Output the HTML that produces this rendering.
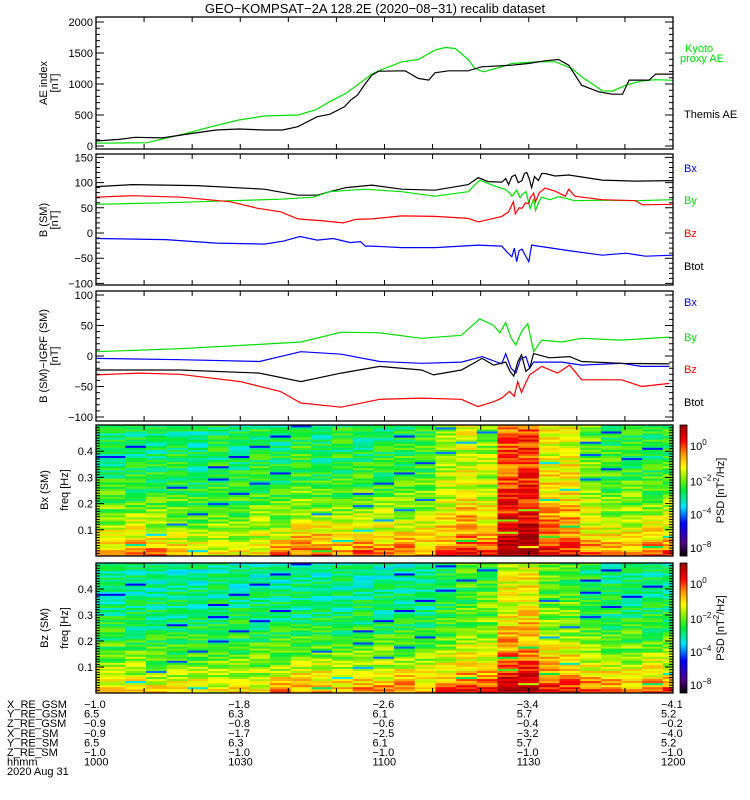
<!DOCTYPE html>
<html><head><meta charset="utf-8"><style>
body{margin:0;background:#fff}
svg{display:block;font-family:"Liberation Sans",sans-serif}
text{font-size:11px}
</style></head><body>
<svg id="chart" xmlns="http://www.w3.org/2000/svg" width="750" height="800" viewBox="0 0 750 800">
<rect width="750" height="800" fill="#fff"/>
<text x="375" y="13" text-anchor="middle" style="font-size:13px">GEO−KOMPSAT−2A 128.2E (2020−08−31) recalib dataset</text>
<g id="spec"></g><g id="lines"></g><g id="axes"></g>
<g id="labels">
<text transform="translate(47,83) rotate(-90)" text-anchor="middle">AE index</text>
<text transform="translate(58,83) rotate(-90)" text-anchor="middle">[nT]</text>
<text transform="translate(47,220) rotate(-90)" text-anchor="middle">B (SM)</text>
<text transform="translate(58,220) rotate(-90)" text-anchor="middle">[nT]</text>
<text transform="translate(47,356) rotate(-90)" text-anchor="middle">B (SM)−IGRF (SM)</text>
<text transform="translate(58,356) rotate(-90)" text-anchor="middle">[nT]</text>
<text transform="translate(48,490) rotate(-90)" text-anchor="middle">Bx (SM)</text>
<text transform="translate(68,490) rotate(-90)" text-anchor="middle">freq [Hz]</text>
<text transform="translate(48,628) rotate(-90)" text-anchor="middle">Bz (SM)</text>
<text transform="translate(68,628) rotate(-90)" text-anchor="middle">freq [Hz]</text>
<text x="685" y="52" fill="#00e000">Kyoto</text>
<text x="680" y="62" fill="#00e000">proxy AE</text>
<text x="684" y="118">Themis AE</text>
<text x="684" y="172" fill="#0000ff">Bx</text>
<text x="684" y="204" fill="#00e000">By</text>
<text x="684" y="237" fill="#ff0000">Bz</text>
<text x="684" y="270">Btot</text>
<text x="684" y="306" fill="#0000ff">Bx</text>
<text x="684" y="341" fill="#00e000">By</text>
<text x="684" y="373" fill="#ff0000">Bz</text>
<text x="684" y="406">Btot</text>
</g>
<g id="table"></g>
</svg>
<script>
const timesAE_themis=[0,4.8,8.2,13.8,20,25,29.7,35,38.8,42,46,48.6,51.7,53,54.4,55.8,57.4,58.8,64.3,67,69.2,70.5,73.3,77.4,80.2,86.5,89.9,93.4,96.2,98.3,101,104.6,107.4,109.5,110.9,115,116.4,120];
const valsAE_themis=[80,107,140,130,204,258,274,258,258,312,473,511,634,742,823,984,1145,1207,1213,1090,1063,1180,1213,1213,1277,1304,1331,1374,1395,1304,980,873,836,836,1063,1063,1160,1160];
const timesAE_kyoto=[0,10.6,14.5,18.7,24,29.7,35,42,45.6,48.6,52,57.4,58.8,63.6,67,70.5,72.6,74.7,77.4,78.8,80.6,84.4,86.5,91.4,95.5,99,101,105.3,107.4,110.2,113.6,116.4,120];
const valsAE_kyoto=[45,54,124,204,312,419,484,500,580,715,850,1161,1213,1358,1395,1546,1589,1572,1395,1250,1196,1277,1331,1358,1358,1250,1116,890,885,980,1050,1070,1060];

const tB_tot=[0,7.6,21,35,42,46,48.6,52,57.4,63.6,70.5,77.4,79.5,81.5,84.4,85.2,85.8,86.5,87.2,87.8,88.6,89.1,89.6,90.1,90.6,91.2,92,92.7,93.4,95.5,98.3,105.3,112.2,120];
const vB_tot=[92,96,94,87,75,75,82,90,95,87,85,96,110,102,101,108,96,112,115,100,104,118,120,108,90,112,104,118,118,113,115,105,103,104];
const tB_y=[0,14.5,28,38.4,45.2,48.6,55.8,57.4,63.6,70.5,77.4,79.8,82.9,85,86,86.5,87.5,88.2,88.6,89.4,90.3,91,91.4,92.1,92.7,94.4,96.2,99.6,105.3,112.2,120];
const vB_y=[57,60,64,67,71,82,87,86,82,73,82,105,93,87,80,73,85,70,76,82,49,68,45,62,71,66,72,64,65,64,66];
const tB_z=[0,7.6,17.8,28,33.6,38.4,42,47.2,51.4,54,57.4,63.6,70.5,77.4,79.5,84.4,85.8,86.8,87.2,88,88.6,89.3,90,90.3,91,91.4,92.2,93.4,95.5,97.6,98.3,99.6,105.3,112.2,113.6,120];
const vB_z=[71,74,71,62,49,42,28,24,20,27,28,34,33,29,22,33,42,62,38,50,49,60,58,70,79,62,80,89,83,73,87,73,66,64,56,57];
const tB_x=[0,14.5,25,35,39,42.4,46,49.3,52.9,55,56,57.4,63.6,70.5,79.5,84.4,85.5,86.5,87,87.5,88,88.6,89.3,90,90.6,92.7,98.3,105.3,110.2,114.3,120];
const vB_x=[-11,-13,-20,-22,-16,-7,-14,-11,-19,-17,-26,-26,-29,-29,-24,-26,-38,-47,-30,-57,-35,-32,-45,-57,-24,-27,-35,-44,-40,-46,-44];

const tD_y=[0,17.5,34,42.6,51,59,67.7,76,79.8,82.7,84,85.2,86.3,87.3,88.5,89.8,91,92.7,96.9,101,109.3,119.3];
const vD_y=[7,12,19,23,39,38,29,34,61,50,38,55,30,18,40,53,7,26,23,29,26,31];
const tD_x=[0,17.5,34,42.6,51,59,67.7,76,80.3,84.4,85.2,86.3,87.3,88.3,89.4,90.2,91,96.9,101,109.3,113.5,119.3];
const vD_x=[-4,-6,-9,7,3,-9,-12,-10,-1,-13,4,-20,-28,-5,-1,-20,-10,-10,-15,-12,-17,-17];
const tD_tot=[0,17.5,34,42.6,51,59,67.7,70.2,76,80.3,82.7,85.2,86.1,86.9,87.7,88.5,89.4,90.2,91,94.3,98.5,101,109.3,119.3];
const vD_tot=[-23,-23,-28,-42,-28,-17,-23,-31,-23,-4,-15,-10,-25,-33,-10,2,-25,-20,4,-3,-1,-9,-12,-13];
const tD_z=[0,9,17.5,30,38.3,42.6,51,59,67.7,76,79.4,82.7,84.4,86,87,87.7,88.5,89.3,90.2,92.7,96,98.5,101,109.3,113.5,119.3];
const vD_z=[-31,-28,-30,-42,-58,-77,-84,-71,-69,-71,-83,-75,-69,-58,-66,-42,-60,-45,-31,-17,-28,-15,-39,-39,-50,-45];

// spectrogram: per-column log10 PSD at high freq (H) and lowest freq (L)
const bxHigh=[-2.8,-2.8,-2.8,-2.7,-2.9,-2.7,-2.8,-2.6,-2.8,-2.5,-2.8,-2.6,-2.7,-2.6,-2.5,-2.4,-1.8,-1.5,-1.8,-0.2,0.0,-1.3,-1.3,-2.1,-2.5,-2.5,-2.6,-2.4];
const bxLow=[-0.4,-0.2,-0.3,-0.8,-1.0,-1.0,-1.0,-0.8,-0.4,0.0,0.2,-0.3,0.1,-0.2,-0.2,-0.3,-0.1,0.3,0.0,1.1,1.2,0.6,0.3,-0.2,-0.4,-0.3,-0.1,0.0];
const bzHigh=[-3.0,-3.0,-3.0,-3.0,-3.0,-3.0,-3.0,-3.0,-3.0,-3.0,-3.0,-3.0,-3.0,-3.0,-3.0,-3.0,-2.7,-2.4,-2.3,-1.4,-1.2,-2.2,-2.3,-2.7,-2.9,-2.9,-2.9,-2.9];
const bzLow=[-0.6,-0.8,-1.0,-1.0,-0.9,-1.0,-0.8,-0.9,-0.5,-0.3,-0.3,-0.5,-0.3,-0.3,-0.2,-0.3,0.0,0.3,0.2,1.1,1.0,0.6,0.4,0.0,-0.2,-0.3,-0.1,0.0];
const profFreq=[0,0.05,0.1,0.15,0.2,0.25,0.3,0.4,0.5];
const profWeight=[1,0.75,0.55,0.4,0.28,0.18,0.1,0.03,0];
const texture="4718290563827461950372846193058274619305827316490527381946057283910465728391047562839104756283910475628391";
const cbTicks=[0,-2,-4,-8];
const cbTickFrac=[0.84,0.57,0.315,0.06];

const ephLabels=["X_RE_GSM","Y_RE_GSM","Z_RE_GSM","X_RE_SM","Y_RE_SM","Z_RE_SM","hhmm","2020 Aug 31"];
const ephTimes=[0,30,60,90,120];
const ephVals=[["−1.0","−1.8","−2.6","−3.4","−4.1"],["6.5","6.3","6.1","5.7","5.2"],["−0.9","−0.8","−0.6","−0.4","−0.2"],["−0.9","−1.7","−2.5","−3.2","−4.0"],["6.5","6.3","6.1","5.7","5.2"],["−1.0","−1.0","−1.0","−1.0","−1.0"],["1000","1030","1100","1130","1200"]];

const NS="http://www.w3.org/2000/svg";
function mk(tag,attrs,parent){const e=document.createElementNS(NS,tag);for(const k in attrs)e.setAttribute(k,attrs[k]);parent.appendChild(e);return e;}
const X0=96,X1=673;
const xT=t=>X0+t*(X1-X0)/120;
const panels=[
 {top:17,bot:149,y:v=>146-v*0.062,min:-48,max:2080,maj:500,minr:100,labels:[0,500,1000,1500,2000]},
 {top:154,bot:285,y:v=>233-v*0.504,min:-103,max:157,maj:50,minr:10,labels:[-100,-50,0,50,100,150]},
 {top:291,bot:421,y:v=>356-v*0.61,min:-106,max:107,maj:50,minr:10,labels:[-100,-50,0,50,100]},
 {top:425,bot:556,y:f=>556-f*262,min:0,max:0.5,maj:0.1,minr:0.01,labels:[0.1,0.2,0.3,0.4],spec:true},
 {top:563,bot:693,y:f=>693-f*260,min:0,max:0.5,maj:0.1,minr:0.01,labels:[0.1,0.2,0.3,0.4],spec:true}
];
const axes=document.getElementById('axes'),lines=document.getElementById('lines'),spec=document.getElementById('spec');

function cmap(fr){
 const st=[[0,0,0,0],[0.1,80,0,130],[0.25,0,0,255],[0.38,0,230,255],[0.5,0,235,60],[0.6,140,240,0],[0.68,255,255,0],[0.78,255,150,0],[0.88,255,0,0],[1,150,0,0]];
 fr=Math.max(0,Math.min(1,fr));
 for(let i=1;i<st.length;i++){if(fr<=st[i][0]){const a=st[i-1],b=st[i],u=(fr-a[0])/(b[0]-a[0]);return `rgb(${Math.round(a[1]+u*(b[1]-a[1]))},${Math.round(a[2]+u*(b[2]-a[2]))},${Math.round(a[3]+u*(b[3]-a[3]))})`;}}
 return 'rgb(150,0,0)';
}
function v2frac(v){
 const vs=[-8,-4,-2,0,1.2],fs=[0.06,0.315,0.57,0.84,1];
 if(v<=vs[0])return fs[0]*(1+(v+8)/4);
 for(let i=1;i<vs.length;i++)if(v<=vs[i])return fs[i-1]+(v-vs[i-1])/(vs[i]-vs[i-1])*(fs[i]-fs[i-1]);
 return 1;
}
function weight(f){for(let i=1;i<profFreq.length;i++)if(f<=profFreq[i]){const u=(f-profFreq[i-1])/(profFreq[i]-profFreq[i-1]);return profWeight[i-1]+u*(profWeight[i]-profWeight[i-1]);}return 0;}

function drawSpec(p,hi,lo,name){
 const g=mk('g',{},spec);
 
 
 const nRows=64,df=0.5/nRows,n=hi.length;
 for(let c=0;c<n;c++){
  const t0=c===0?0:6.1+4.3*(c-1),t1=Math.min(120,6.1+4.3*c);
  for(let r=0;r<nRows;r++){
   const f=(r+0.5)*df;
   const d=+texture[(r*7+c*13)%texture.length];
   let v=hi[c]+(lo[c]-hi[c])*weight(f)+(d-4.5)*0.14;
   if(d===0&&(r+c)%3===0)v-=1.6;
   const y0=p.y(r*df+df),y1=p.y(r*df);
   const rc=mk('rect',{x:xT(t0).toFixed(2),y:y0.toFixed(2),width:(xT(t1)-xT(t0)+0.3).toFixed(2),height:(y1-y0+0.3).toFixed(2),fill:cmap(v2frac(v))},g);
   
   
  }
 }
}
drawSpec(panels[3],bxHigh,bxLow,'bx-spectrogram');
drawSpec(panels[4],bzHigh,bzLow,'bz-spectrogram');

function drawLine(p,ts,vs,color,name){
 const d=ts.map((t,i)=>(i?'L':'M')+xT(t).toFixed(1)+','+p.y(vs[i]).toFixed(1)).join('');
 const e=mk('path',{d:d,fill:'none',stroke:color,'stroke-width':1.2},lines);
 
 
}
drawLine(panels[0],timesAE_kyoto,valsAE_kyoto,'#00e000','kyoto-proxy-ae-line');
drawLine(panels[0],timesAE_themis,valsAE_themis,'#000','themis-ae-line');
drawLine(panels[1],tB_tot,vB_tot,'#000','b-btot-line');
drawLine(panels[1],tB_y,vB_y,'#00e000','b-by-line');
drawLine(panels[1],tB_z,vB_z,'#ff0000','b-bz-line');
drawLine(panels[1],tB_x,vB_x,'#0000ff','b-bx-line');
drawLine(panels[2],tD_y,vD_y,'#00e000','dbigrf-by-line');
drawLine(panels[2],tD_x,vD_x,'#0000ff','dbigrf-bx-line');
drawLine(panels[2],tD_tot,vD_tot,'#000','dbigrf-btot-line');
drawLine(panels[2],tD_z,vD_z,'#ff0000','dbigrf-bz-line');

panels.forEach((p,pi)=>{
 const box=mk('rect',{x:X0,y:p.top,width:X1-X0,height:p.bot-p.top,fill:'none',stroke:'#000','stroke-width':1.3},axes);
 
 
 let pd='';
 for(let t=10;t<120;t+=10){const x=xT(t);pd+=`M${x},${p.bot}v-5M${x},${p.top}v5`;}
 const nmin=Math.ceil(p.min/p.minr-1e-6),nmax=Math.floor(p.max/p.minr+1e-6);
 for(let k=nmin;k<=nmax;k++){const v=k*p.minr;const y=p.y(v);const isMaj=Math.abs(v/p.maj-Math.round(v/p.maj))<1e-6;const L=isMaj?8:4;pd+=`M${X0},${y}h${L}M${X1},${y}h${-L}`;}
 const tk=mk('path',{d:pd,stroke:'#000','stroke-width':1,fill:'none'},axes);
 
 
 p.labels.forEach(v=>{
  const tx=mk('text',{x:93,y:p.y(v)+4,'text-anchor':'end'},axes);
  tx.textContent=p.spec?v.toFixed(1):String(v).replace('-','−');
  
  
 });
 if(p.spec){
  const cb=mk('g',{},axes);
  
  
  const h=p.bot-p.top;
  for(let i=0;i<h;i++){mk('rect',{x:680,y:p.bot-i-1,width:7,height:1.2,fill:cmap((i+0.5)/h)},cb);}
  mk('rect',{x:680,y:p.top,width:7,height:h,fill:'none',stroke:'#000','stroke-width':0.8},cb);
  cbTicks.forEach((v,i)=>{
   const y=p.bot-cbTickFrac[i]*h;
   const t=mk('text',{x:690,y:y+4},cb);
   t.textContent='10';
   const s=mk('tspan',{dy:-5,style:'font-size:8px'},t);s.textContent=String(v).replace('-','−');
   
   
  });
  const lab=mk('text',{transform:`translate(724,${(p.top+p.bot)/2}) rotate(-90)`,'text-anchor':'middle'},cb);
  lab.textContent='PSD [nT';
  const sp=mk('tspan',{dy:-5,style:'font-size:8px'},lab);sp.textContent='2';
  const sp2=mk('tspan',{dy:5},lab);sp2.textContent='/Hz]';
  
  
 }
});

const tab=document.getElementById('table');
ephLabels.forEach((l,i)=>{
 const y=708+i*9.6;
 const t=mk('text',{x:7,y:y},tab);t.textContent=l;
 
 
 if(i<ephVals.length){ephVals[i].forEach((v,j)=>{
  const x=j===4?xT(ephTimes[j])-12:xT(ephTimes[j])-12;
  const tv=mk('text',{x:x,y:y},tab);tv.textContent=v;
  
  
 });}
});
</script>
</body></html>
